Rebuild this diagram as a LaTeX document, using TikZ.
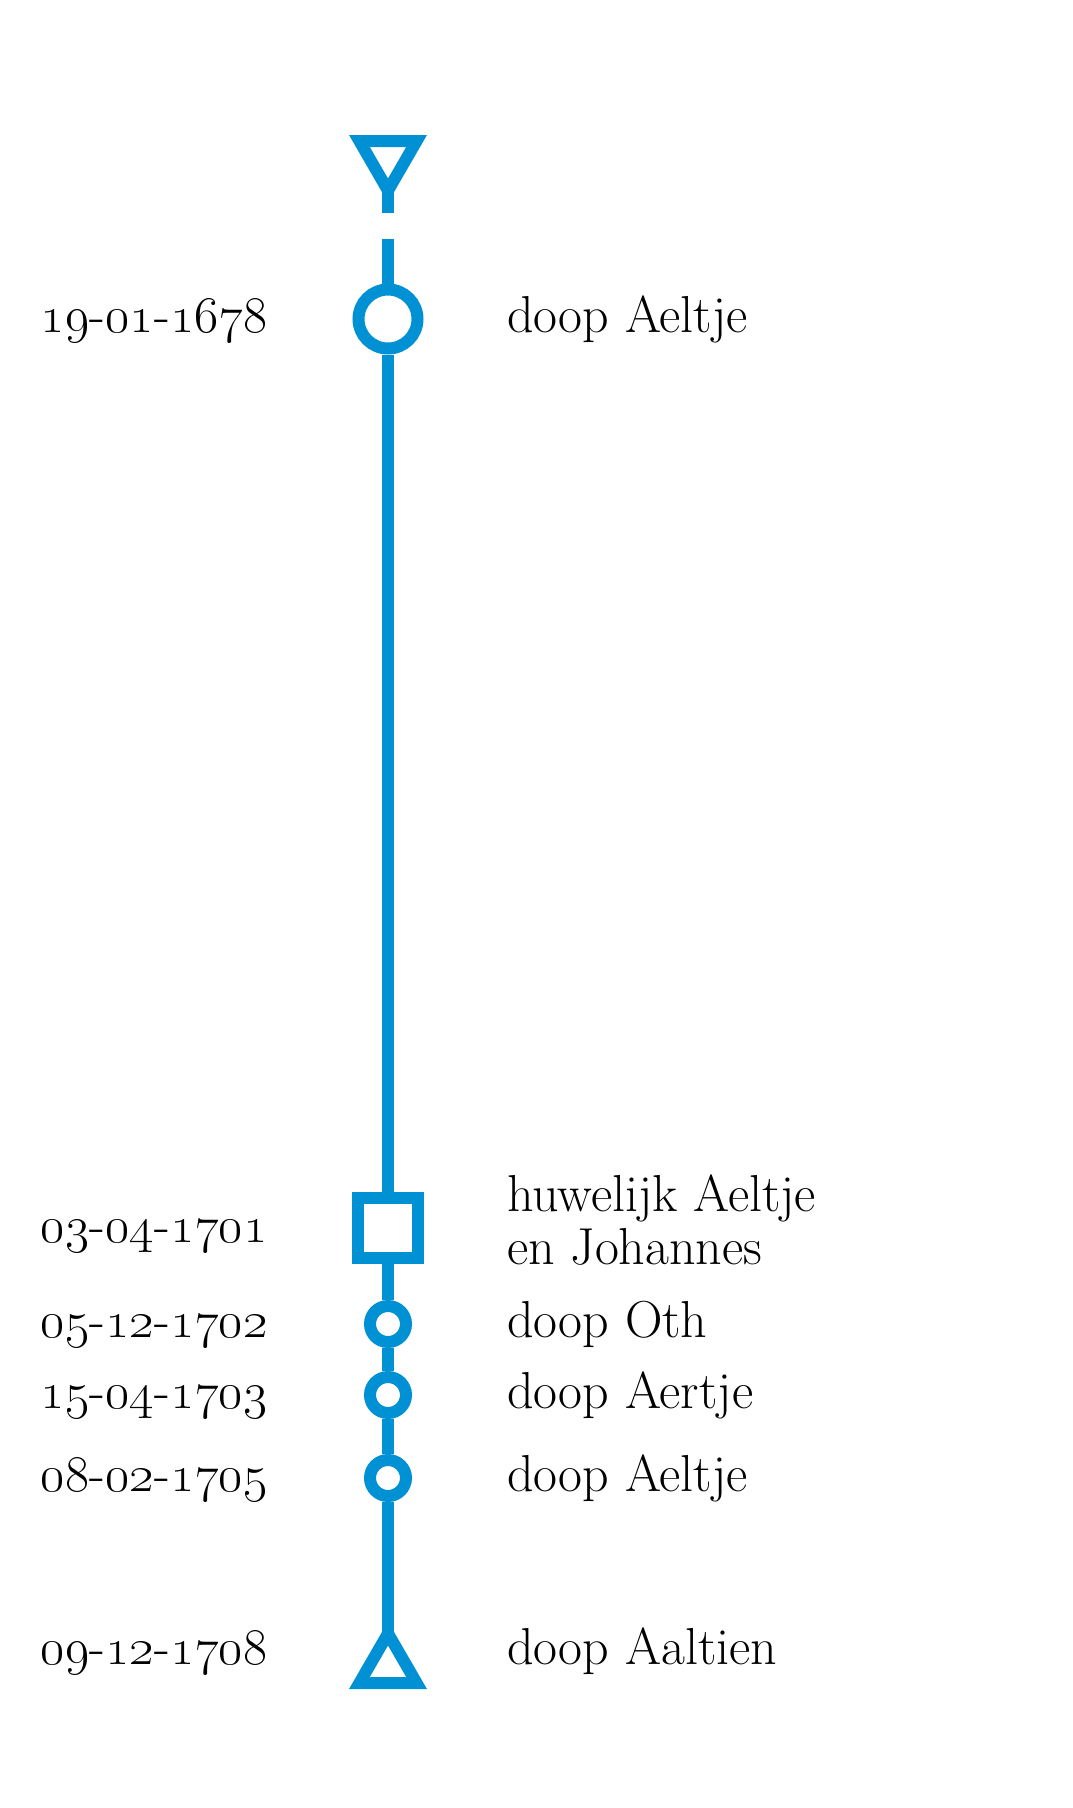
\RequirePackage{fix-cm}
\documentclass[tikz,border=0pt]{standalone}
\usetikzlibrary{shapes.geometric}
\pgfdeclarelayer{achter}
\pgfsetlayers{achter,main}
\definecolor{tijdblauw}{RGB}{0,145,212}
\newcommand{\datum}[3]{\oldstylenums{#1}-\oldstylenums{#2}-\oldstylenums{#3}}
\begin{document}
\begin{tikzpicture}[x=1pt,y=-1pt,
    lijn/.style={draw=tijdblauw,line width=12pt},
    doop/.style={circle,lijn,fill=white,inner sep=0pt,minimum size=36pt},
    driehoek/.style={regular polygon,regular polygon sides=3,lijn,fill=white,inner sep=0pt,minimum size=66pt},
    datumtekst/.style={anchor=base east,font=\fontsize{52}{53}\selectfont,inner sep=0pt},
    gebeurtenis/.style={anchor=base west,font=\fontsize{52}{53}\selectfont,inner sep=0pt,align=left}]

    \useasboundingbox(0,0)rectangle(1072,1808);

    \node[driehoek,shape border rotate=180](boven)at(388,157.5){};
    \coordinate(stomp)at(388,213);
    \coordinate(begin)at(388,239);
    \node[circle,lijn,fill=white,inner sep=0pt,minimum size=59pt](geboorte)at(388,319){};
    \node[rectangle,lijn,fill=white,inner sep=0pt,minimum size=60pt](huwelijk)at(388,1228){};
    \node[doop](oth)at(388,1324){};
    \node[doop](aertje)at(388,1395){};
    \node[doop](aeltje)at(388,1478){};
    \node[driehoek](onder)at(388,1666.5){};

    \begin{pgfonlayer}{achter}
    \draw[lijn](boven.center)--(stomp);
    \draw[lijn](begin)--(geboorte.center);
    \draw[lijn](geboorte)--(huwelijk);
    \draw[lijn](huwelijk)--(oth);
    \draw[lijn](oth)--(aertje);
    \draw[lijn](aertje)--(aeltje);
    \draw[lijn](aeltje)--(onder.center);
    \end{pgfonlayer}

    \node[datumtekst](d1)at(268,332){\datum{19}{01}{1678}};
    \node[datumtekst](d2)at(268,1242){\datum{03}{04}{1701}};
    \node[datumtekst](d3)at(268,1337){\datum{05}{12}{1702}};
    \node[datumtekst](d4)at(268,1408){\datum{15}{04}{1703}};
    \node[datumtekst](d5)at(268,1491){\datum{08}{02}{1705}};
    \node[datumtekst](d6)at(268,1664){\datum{09}{12}{1708}};

    \node[gebeurtenis](t1)at(507,332){doop Aeltje};
    \node[gebeurtenis,anchor=west](t2)at(507,1220){huwelijk Aeltje\\en Johannes};
    \node[gebeurtenis](t3)at(507,1337){doop Oth};
    \node[gebeurtenis](t4)at(507,1408){doop Aertje};
    \node[gebeurtenis](t5)at(507,1491){doop Aeltje};
    \node[gebeurtenis](t6)at(507,1664){doop Aaltien};

\end{tikzpicture}
\end{document}
